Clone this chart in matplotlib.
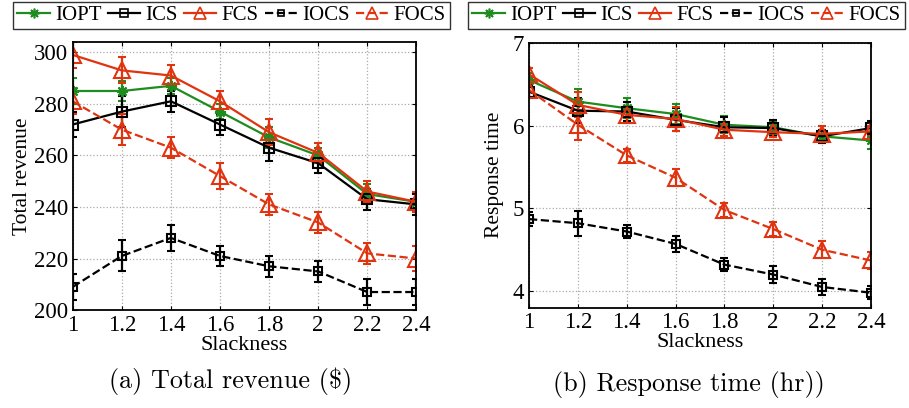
import matplotlib
matplotlib.use("Agg")
import matplotlib.pyplot as plt
from matplotlib.lines import Line2D

plt.rcParams['font.family'] = ['Liberation Serif', 'DejaVu Serif']

slackness = [1.0, 1.2, 1.4, 1.6, 1.8, 2.0, 2.2, 2.4]
x_ticklabels = ['1', '1.2', '1.4', '1.6', '1.8', '2', '2.2', '2.4']
names = ['IOPT', 'ICS', 'FCS', 'IOCS', 'FOCS']

# (a) total revenue
rev_iopt = [285, 285, 287, 277, 267, 260, 245, 242]
rev_ics = [272, 277, 281, 272, 263, 257, 243, 241]
rev_fcs = [299, 293, 291, 281, 269, 261, 246, 242]
rev_iocs = [209, 221, 228, 221, 217, 215, 207, 207]
rev_focs = [281, 270, 263, 252, 241, 234, 222, 220]
rev_err_iopt = [5, 4, 3, 3, 4, 3, 4, 4]
rev_err_ics = [5, 6, 4, 4, 5, 4, 4, 4]
rev_err_fcs = [5, 5, 4, 4, 5, 4, 4, 4]
rev_err_iocs = [5, 6, 5, 4, 4, 4, 5, 5]
rev_err_focs = [5, 6, 4, 5, 4, 4, 4, 5]

# (b) response time
rt_iopt = [6.55, 6.29, 6.21, 6.14, 6.01, 5.98, 5.87, 5.82]
rt_ics = [6.41, 6.18, 6.17, 6.07, 5.98, 5.97, 5.87, 5.97]
rt_fcs = [6.62, 6.25, 6.13, 6.08, 5.95, 5.92, 5.90, 5.93]
rt_iocs = [4.87, 4.82, 4.72, 4.57, 4.32, 4.20, 4.05, 3.98]
rt_focs = [6.43, 6.01, 5.64, 5.37, 4.98, 4.75, 4.50, 4.37]
rt_err_iopt = [0.08, 0.15, 0.12, 0.12, 0.1, 0.08, 0.08, 0.1]
rt_err_ics = [0.08, 0.15, 0.12, 0.14, 0.12, 0.1, 0.08, 0.08]
rt_err_fcs = [0.08, 0.15, 0.1, 0.14, 0.08, 0.06, 0.1, 0.06]
rt_err_iocs = [0.08, 0.15, 0.08, 0.1, 0.08, 0.1, 0.1, 0.08]
rt_err_focs = [0.08, 0.18, 0.08, 0.1, 0.08, 0.08, 0.1, 0.1]

green = '#1e8c1e'
red = '#e0330f'
# color, linestyle, marker, size in plot, size in legend
styles = [
    (green, '-', (8, 2, 0), 8, 7),
    ('black', '-', 's', 7.5, 6),
    (red, '-', '^', 11, 8),
    ('black', '--', 's', 6, 5),
    (red, '--', '^', 11, 8),
]

fig = plt.figure(figsize=(9.09, 4.08), dpi=100)
ax1 = fig.add_axes([0.080, 0.240, 0.378, 0.657])
ax2 = fig.add_axes([0.582, 0.246, 0.376, 0.649])


def draw(ax, series, errors, leg_x):
    handles = []
    for name, ys, es, (c, ls, mk, ms, lms) in zip(names, series, errors, styles):
        ax.errorbar(slackness, ys, yerr=es, color=c, ls=ls, marker=mk, ms=ms,
                    mfc='none', mec=c, mew=1.5, lw=1.6, elinewidth=1.6,
                    capsize=3, capthick=1.6)
        handles.append(Line2D([], [], color=c, ls=ls, marker=mk, ms=lms,
                              mfc='none', mec=c, mew=1.2, lw=1.6, label=name))
    ax.set_xlim(1, 2.4)
    ax.set_xticks(slackness)
    ax.set_xticklabels(x_ticklabels)
    ax.grid(True, ls=':', color='#aaaaaa', lw=0.9)
    ax.tick_params(direction='in', labelsize=16.5, length=3, top=True, right=True)
    for sp in ax.spines.values():
        sp.set_linewidth(1.3)
    ax.set_xlabel('Slackness', fontsize=16, labelpad=0)
    leg = fig.legend(handles=handles, loc='upper center',
                     bbox_to_anchor=(leg_x, 1 - 1.5 / 408), ncol=5,
                     fontsize=15, frameon=True, fancybox=False,
                     edgecolor='black', handlelength=1.55, handletextpad=0.25,
                     columnspacing=0.3, borderpad=0.2, borderaxespad=0)
    leg.get_frame().set_linewidth(1.0)


draw(ax1, [rev_iopt, rev_ics, rev_fcs, rev_iocs, rev_focs],
     [rev_err_iopt, rev_err_ics, rev_err_fcs, rev_err_iocs, rev_err_focs],
     231.5 / 909)
ax1.set_ylim(200, 304)
ax1.set_yticks([200, 220, 240, 260, 280, 300])
ax1.set_ylabel('Total revenue', fontsize=15.5, labelpad=1)

draw(ax2, [rt_iopt, rt_ics, rt_fcs, rt_iocs, rt_focs],
     [rt_err_iopt, rt_err_ics, rt_err_fcs, rt_err_iocs, rt_err_focs],
     686.5 / 909)
ax2.set_ylim(3.8, 7)
ax2.set_yticks([4, 5, 6, 7])
ax2.set_ylabel('Response time', fontsize=15.5, labelpad=6)

fig.text(0.254, 1 - 381.7 / 408, '(a) Total revenue ($)', family='cmr10',
         fontsize=18.8, ha='center', va='center')
fig.text(0.758, 1 - 385 / 408, '(b) Response time (hr))', family='cmr10',
         fontsize=18.8, ha='center', va='center')

fig.savefig('out.png', dpi=100)
